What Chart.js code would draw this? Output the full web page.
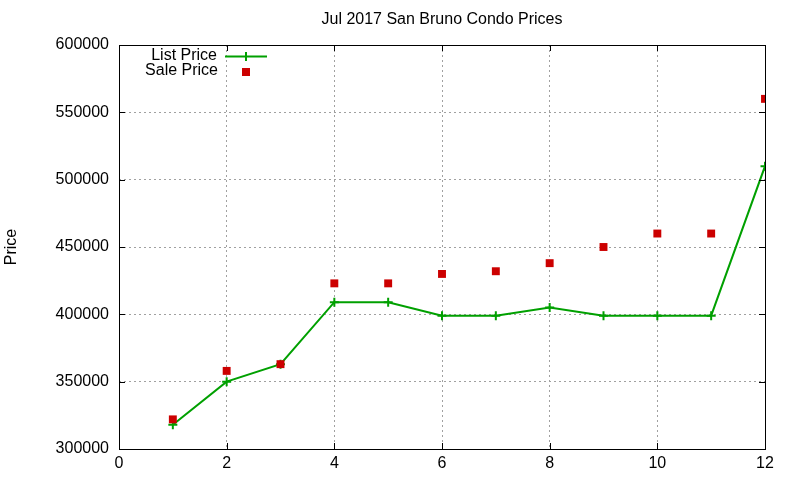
<!DOCTYPE html>
<html><head><meta charset="utf-8">
<script src="https://cdn.jsdelivr.net/npm/chart.js@4/dist/chart.umd.min.js"></script>
<style>html,body{margin:0;padding:0;background:#fff}#wrap{width:800px;height:480px}</style>
</head><body><div id="wrap"><canvas id="c" width="800" height="480"></canvas></div>
<script>
const months = [1,2,3,4,5,6,7,8,9,10,11,12];
const listPrice = [318000,350000,363000,409000,409000,399000,399000,405000,399000,399000,399000,510000];
const salePrice = [322000,358000,363000,423000,423000,430000,432000,438000,450000,460000,460000,560000];
const xTicks = [0,2,4,6,8,10,12];
const yTicks = [300000,350000,400000,450000,500000,550000,600000];
const titleText = 'Jul 2017 San Bruno Condo Prices';
const yTitle = 'Price';
const FONT = '"Liberation Sans", Arial, sans-serif';
const GREEN = '#00a000', RED = '#cc0000';

const deco = {
  id: 'deco',
  afterDraw(chart) {
    const {ctx, chartArea: a, scales} = chart;
    ctx.save();
    ctx.strokeStyle = '#000'; ctx.lineWidth = 1; ctx.setLineDash([]);
    ctx.strokeRect(a.left + 0.5, a.top + 0.5, a.right - a.left, a.bottom - a.top);
    ctx.beginPath();
    yTicks.forEach(v => {
      const y = Math.round(scales.y.getPixelForValue(v)) + 0.5;
      ctx.moveTo(a.left, y); ctx.lineTo(a.left + 6, y);
      ctx.moveTo(a.right, y); ctx.lineTo(a.right - 6, y);
    });
    xTicks.forEach(v => {
      const x = Math.round(scales.x.getPixelForValue(v)) + 0.5;
      ctx.moveTo(x, a.bottom); ctx.lineTo(x, a.bottom - 6);
      ctx.moveTo(x, a.top); ctx.lineTo(x, a.top + 6);
    });
    ctx.stroke();
    ctx.fillStyle = '#000';
    ctx.font = '16px ' + FONT;
    ctx.textAlign = 'center'; ctx.textBaseline = 'middle';
    ctx.fillText(titleText, (a.left + a.right) / 2, 20);
    ctx.save();
    ctx.translate(12, 247);
    ctx.rotate(-Math.PI / 2);
    ctx.fillText(yTitle, 0, 0);
    ctx.restore();
    ctx.textAlign = 'right';
    ctx.fillText(chart.data.datasets[0].label, 217, 56);
    ctx.fillText(chart.data.datasets[1].label, 218, 71);
    ctx.strokeStyle = GREEN; ctx.lineWidth = 2;
    ctx.beginPath();
    ctx.moveTo(225, 56.5); ctx.lineTo(267, 56.5);
    ctx.moveTo(246, 52); ctx.lineTo(246, 61);
    ctx.stroke();
    ctx.fillStyle = RED;
    ctx.fillRect(242, 68, 8, 8);
    ctx.restore();
  }
};

new Chart(document.getElementById('c'), {
  type: 'scatter',
  data: {
    datasets: [
      { label: 'List Price', data: months.map((m,i)=>({x:m,y:listPrice[i]})), showLine: true,
        borderColor: GREEN, backgroundColor: GREEN, borderWidth: 2, tension: 0,
        pointStyle: 'cross', pointRadius: 4.5, pointBorderWidth: 2, pointBorderColor: GREEN, order: 2 },
      { label: 'Sale Price', data: months.map((m,i)=>({x:m,y:salePrice[i]})), showLine: false,
        borderColor: RED, backgroundColor: RED, borderWidth: 0,
        pointStyle: 'rect', pointRadius: 5.6, pointBorderWidth: 0, order: 1 }
    ]
  },
  options: {
    responsive: false, animation: false, devicePixelRatio: 1,
    layout: { padding: { top: 45, right: 35, left: 0, bottom: 0 } },
    plugins: { legend: { display: false }, title: { display: false }, tooltip: { enabled: false } },
    scales: {
      x: {
        type: 'linear', min: 0, max: 12,
        afterBuildTicks: s => { s.ticks = xTicks.map(v => ({value: v})); },
        afterFit: s => { s.height = 31; },
        border: { display: false, dash: [2,3] },
        grid: { color: '#a0a0a0', lineWidth: 1, drawTicks: false, tickLength: 0 },
        ticks: { color: '#000', font: { family: FONT, size: 16 }, padding: 5, maxRotation: 0 }
      },
      y: {
        type: 'linear', min: 300000, max: 600000,
        afterBuildTicks: s => { s.ticks = yTicks.map(v => ({value: v})); },
        afterFit: s => { s.width = 119; },
        border: { display: false, dash: [2,3] },
        grid: { color: '#a0a0a0', lineWidth: 1, drawTicks: false, tickLength: 0 },
        ticks: { color: '#000', font: { family: FONT, size: 16 }, padding: 10, callback: v => String(v) }
      }
    }
  },
  plugins: [deco]
});
</script>
</body></html>
